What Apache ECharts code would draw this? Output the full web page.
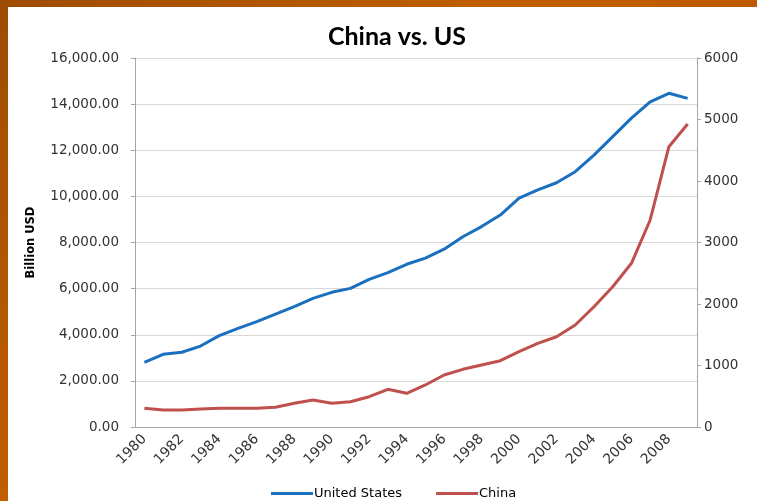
<!DOCTYPE html>
<html>
<head>
<meta charset="utf-8">
<script src="https://cdn.jsdelivr.net/npm/echarts@6/dist/echarts.min.js"></script>
<style>
  html, body { margin: 0; padding: 0; width: 757px; height: 501px; overflow: hidden; }
  body { background: linear-gradient(135deg, #9e4c00 0%, #c05e00 40%, #b75400 100%); position: relative; }
  #chart { position: absolute; left: 8px; top: 7px; width: 749px; height: 494px; background: #ffffff; }
</style>
</head>
<body>
<div id="chart"></div>
<script>
// GDP, billions of US dollars, 1980–2009
const years = ['1980','1981','1982','1983','1984','1985','1986','1987','1988','1989',
               '1990','1991','1992','1993','1994','1995','1996','1997','1998','1999',
               '2000','2001','2002','2003','2004','2005','2006','2007','2008','2009'];
const unitedStates = [2805, 3150, 3240, 3510, 3960, 4280, 4570, 4890, 5220, 5580,
                      5840, 6010, 6400, 6690, 7055, 7320, 7710, 8250, 8690, 9190,
                      9920, 10280, 10590, 11070, 11790, 12590, 13390, 14100, 14470, 14250];
const china = [304, 278, 276, 293, 304, 304, 304, 320, 385, 440,
               385, 411, 493, 613, 548, 683, 846, 938, 1008, 1078,
               1224, 1361, 1468, 1658, 1956, 2281, 2662, 3366, 4558, 4927];
const leftTicks = { min: 0, max: 16000, step: 2000 };
const rightTicks = { min: 0, max: 6000, step: 1000 };

const chart = echarts.init(document.getElementById('chart'), null, { renderer: 'canvas' });
const axisFont = { fontFamily: 'DejaVu Sans', fontSize: 13.5, color: '#333333' };

chart.setOption({
  backgroundColor: '#ffffff',
  animation: false,
  title: {
    text: 'China vs. US',
    left: 384,
    top: 12,
    textAlign: 'center',
    textStyle: { fontFamily: 'Lato', fontWeight: 'bold', fontSize: 25, color: '#000000' }
  },
  grid: { left: 127, right: 60, top: 51, bottom: 74 },
  legend: {
    bottom: -4,
    left: 258,
    itemWidth: 42,
    itemHeight: 3,
    itemGap: 34,
    icon: 'rect',
    textStyle: { fontFamily: 'DejaVu Sans', fontSize: 13, color: '#000000', padding: [0, 0, 0, -4] },
    data: ['United States', 'China']
  },
  xAxis: {
    type: 'category',
    data: years,
    boundaryGap: true,
    axisLine: { lineStyle: { color: '#a6a6a6', width: 1 } },
    axisTick: { show: false },
    axisLabel: { ...axisFont, fontSize: 14, rotate: 45, interval: 1, margin: 10 },
    splitLine: { show: false }
  },
  yAxis: [
    {
      type: 'value',
      min: leftTicks.min, max: leftTicks.max, interval: leftTicks.step,
      name: 'Billion USD',
      nameLocation: 'middle',
      nameGap: 98,
      nameTextStyle: { fontFamily: 'DejaVu Sans', fontWeight: 'bold', fontSize: 11.5, color: '#000000' },
      axisLine: { show: true, lineStyle: { color: '#a6a6a6' } },
      axisTick: { show: true, length: 4, lineStyle: { color: '#a6a6a6' } },
      axisLabel: {
        ...axisFont, margin: 16,
        formatter: v => v.toLocaleString('en-US', { minimumFractionDigits: 2, maximumFractionDigits: 2 })
      },
      splitLine: { show: true, lineStyle: { color: '#d9d9d9', width: 1 } }
    },
    {
      type: 'value',
      min: rightTicks.min, max: rightTicks.max, interval: rightTicks.step,
      position: 'right',
      axisLine: { show: true, lineStyle: { color: '#a6a6a6' } },
      axisTick: { show: true, length: 4, lineStyle: { color: '#a6a6a6' } },
      axisLabel: { ...axisFont, margin: 7, formatter: v => String(v) },
      splitLine: { show: false }
    }
  ],
  series: [
    {
      name: 'United States',
      type: 'line',
      yAxisIndex: 0,
      data: unitedStates,
      showSymbol: false,
      symbol: 'none',
      lineStyle: { color: '#1a70be', width: 3 },
      itemStyle: { color: '#1a70be' }
    },
    {
      name: 'China',
      type: 'line',
      yAxisIndex: 1,
      data: china,
      showSymbol: false,
      symbol: 'none',
      lineStyle: { color: '#c0504d', width: 3 },
      itemStyle: { color: '#c0504d' }
    }
  ]
});
</script>
</body>
</html>
